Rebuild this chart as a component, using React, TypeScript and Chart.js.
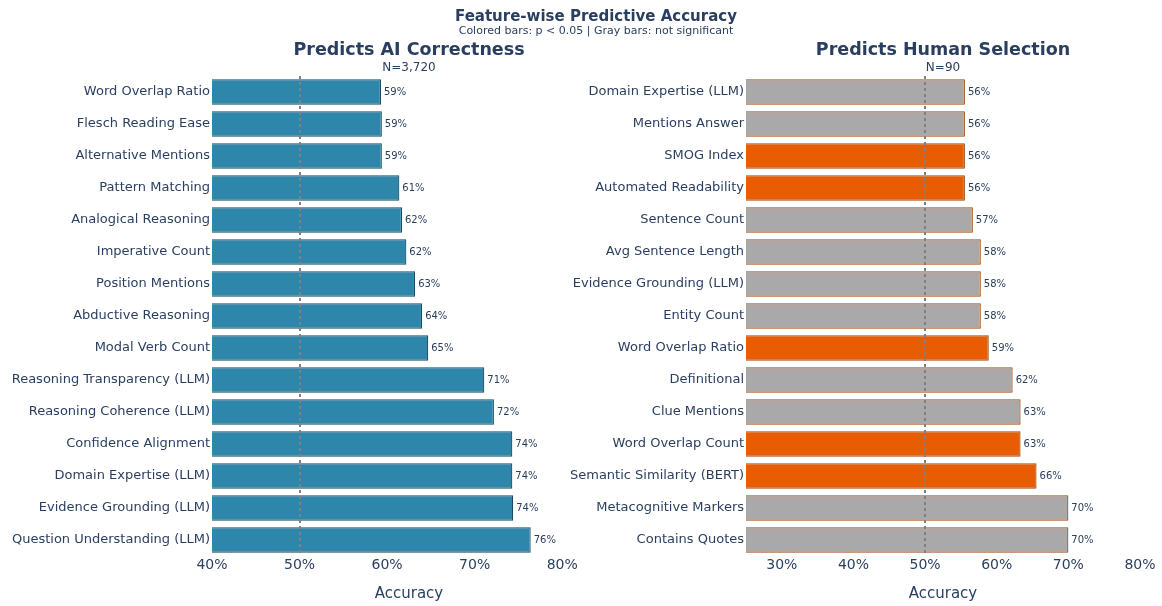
import React, { useEffect, useRef } from "react";
import { Chart, registerables } from "chart.js";

Chart.register(...registerables);

const leftLabels = [
  "Word Overlap Ratio",
  "Flesch Reading Ease",
  "Alternative Mentions",
  "Pattern Matching",
  "Analogical Reasoning",
  "Imperative Count",
  "Position Mentions",
  "Abductive Reasoning",
  "Modal Verb Count",
  "Reasoning Transparency (LLM)",
  "Reasoning Coherence (LLM)",
  "Confidence Alignment",
  "Domain Expertise (LLM)",
  "Evidence Grounding (LLM)",
  "Question Understanding (LLM)",
];
const leftValues = [59.3, 59.4, 59.4, 61.4, 61.7, 62.2, 63.2, 64.0, 64.7, 71.1, 72.2, 74.3, 74.3, 74.4, 76.4];
const leftSignificant = leftValues.map(() => true);

const rightLabels = [
  "Domain Expertise (LLM)",
  "Mentions Answer",
  "SMOG Index",
  "Automated Readability",
  "Sentence Count",
  "Avg Sentence Length",
  "Evidence Grounding (LLM)",
  "Entity Count",
  "Word Overlap Ratio",
  "Definitional",
  "Clue Mentions",
  "Word Overlap Count",
  "Semantic Similarity (BERT)",
  "Metacognitive Markers",
  "Contains Quotes",
];
const rightValues = [55.56, 55.56, 55.56, 55.56, 56.67, 57.78, 57.78, 57.78, 58.89, 62.22, 63.33, 63.33, 65.56, 70.0, 70.0];
const rightSignificant = [false, false, true, true, false, false, false, false, true, false, false, true, true, false, false];

const leftTicks = [40, 50, 60, 70, 80];
const rightTicks = [30, 40, 50, 60, 70, 80];

const FONT = "'DejaVu Sans', Verdana, sans-serif";
const TEXT = "#2a3f5f";
const W = 1162;
const H = 606;

const refLinePlugin = {
  id: "refLine",
  afterDatasetsDraw(chart: any) {
    const { ctx, chartArea, scales } = chart;
    const x = Math.round(scales.x.getPixelForValue(50));
    ctx.save();
    ctx.strokeStyle = "#808080";
    ctx.lineWidth = 2;
    ctx.setLineDash([3, 3]);
    ctx.beginPath();
    ctx.moveTo(x, chartArea.top);
    ctx.lineTo(x, chartArea.bottom);
    ctx.stroke();
    ctx.restore();
    const meta = chart.getDatasetMeta(0);
    const data = chart.data.datasets[0].data;
    ctx.save();
    ctx.font = `10px ${FONT}`;
    ctx.fillStyle = TEXT;
    ctx.textAlign = "left";
    ctx.textBaseline = "middle";
    meta.data.forEach((bar: any, i: number) => {
      ctx.fillText(Math.round(data[i]) + "%", bar.x + 3, bar.y);
    });
    ctx.restore();
  },
};

function makeConfig(
  labels: string[],
  values: number[],
  sig: boolean[],
  color: string,
  border: string,
  min: number,
  max: number,
  ticks: number[],
  yWidth: number,
  padRight: number
): any {
  return {
    type: "bar",
    data: {
      labels,
      datasets: [
        {
          data: values,
          backgroundColor: sig.map((s) => (s ? color : "#a9a9a9")),
          borderColor: border,
          borderWidth: 1.2,
          borderSkipped: false,
          barPercentage: 0.8,
          categoryPercentage: 1,
        },
      ],
    },
    options: {
      indexAxis: "y",
      animation: false,
      responsive: false,
      layout: { padding: { top: 76, bottom: 0, left: 0, right: padRight } },
      plugins: { legend: { display: false }, tooltip: { enabled: false } },
      scales: {
        x: {
          min,
          max,
          afterBuildTicks: (scale: any) => {
            scale.ticks = ticks.map((v) => ({ value: v }));
          },
          afterFit: (scale: any) => {
            scale.height = 50;
          },
          grid: { display: false, drawTicks: false },
          border: { display: false },
          ticks: {
            padding: 1,
            color: TEXT,
            font: { family: FONT, size: 14 },
            callback: (v: any) => v + "%",
          },
          title: {
            display: true,
            text: "Accuracy",
            color: TEXT,
            font: { family: FONT, size: 15 },
            padding: { top: 4, bottom: 3 },
          },
        },
        y: {
          afterFit: (scale: any) => {
            scale.width = yWidth;
          },
          grid: { display: false, drawTicks: false },
          border: { display: false },
          ticks: {
            padding: 2,
            color: TEXT,
            font: { family: FONT, size: 13 },
          },
        },
      },
    },
    plugins: [refLinePlugin],
  };
}

function Label({ text, cx, cy, size, bold }: { text: string; cx: number; cy: number; size: number; bold?: boolean }) {
  const lh = Math.round(size * 1.2);
  return (
    <div
      style={{
        position: "absolute",
        left: cx - 300,
        width: 600,
        top: cy - lh / 2,
        lineHeight: lh + "px",
        fontSize: size,
        fontWeight: bold ? "bold" : "normal",
        fontFamily: FONT,
        color: TEXT,
        textAlign: "center",
        whiteSpace: "nowrap",
      }}
    >
      {text}
    </div>
  );
}

export default function App() {
  const leftRef = useRef<HTMLCanvasElement>(null);
  const rightRef = useRef<HTMLCanvasElement>(null);

  useEffect(() => {
    const c1 = new Chart(
      leftRef.current!,
      makeConfig(leftLabels, leftValues, leftSignificant, "#2e86ab", "#1a4a60", 40, 85, leftTicks, 212, W - 606)
    );
    const c2 = new Chart(
      rightRef.current!,
      makeConfig(rightLabels, rightValues, rightSignificant, "#e85d04", "#9c4a12", 25, 80, rightTicks, 746, W - 1140)
    );
    return () => {
      c1.destroy();
      c2.destroy();
    };
  }, []);

  return (
    <div style={{ position: "fixed", left: 0, top: 0, width: W, height: H, background: "#fff", overflow: "hidden" }}>
      <canvas ref={leftRef} width={W} height={H} style={{ position: "absolute", left: 0, top: 0 }} />
      <canvas ref={rightRef} width={W} height={H} style={{ position: "absolute", left: 0, top: 0 }} />
      <Label text="Feature-wise Predictive Accuracy" cx={596} cy={16} size={15} bold />
      <Label text="Colored bars: p < 0.05 | Gray bars: not significant" cx={596} cy={30} size={11} />
      <Label text="Predicts AI Correctness" cx={409} cy={49} size={17.5} bold />
      <Label text="Predicts Human Selection" cx={943} cy={49} size={17.5} bold />
      <Label text="N=3,720" cx={409} cy={67} size={12} />
      <Label text="N=90" cx={943} cy={67} size={12} />
    </div>
  );
}
